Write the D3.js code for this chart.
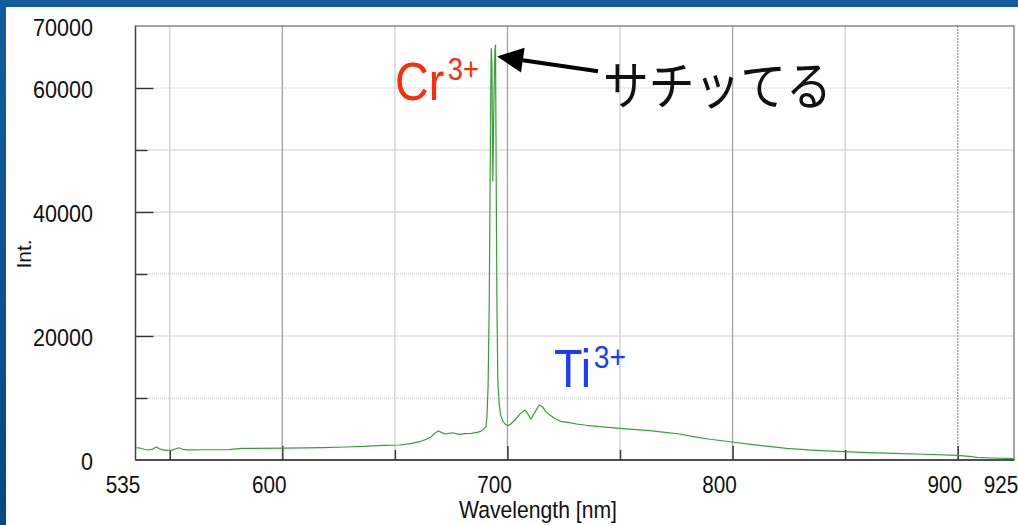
<!DOCTYPE html>
<html>
<head>
<meta charset="utf-8">
<script src="https://cdn.jsdelivr.net/npm/d3@7"></script>
<style>
  html, body { margin: 0; padding: 0; background: #0d5294; }
  svg { display: block; }
</style>
</head>
<body>
<svg id="chart" width="1018" height="525"></svg>
<script>
// Emission spectrum: wavelength (nm) and intensity (counts)
const wavelength = [
  535, 537, 540, 542, 544, 546, 548.5, 551, 554, 556, 558, 565, 576, 582, 600, 610, 618, 628, 636, 645,
  652, 657, 661, 664, 666.2, 668, 669.2, 670.5, 672.2, 674, 675.8, 677, 678.8, 681, 684, 686.5, 687.7, 689,
  690.4, 690.9, 691.4, 691.9, 692.3, 692.6, 692.8, 693.1, 693.5, 694.0, 694.4, 694.7, 695.0, 695.3, 695.7,
  696.3, 697.0, 698.1, 699.2, 700.3, 701.5, 703.3, 705.5, 707.7, 709, 710.4, 712, 714.1, 715.5, 717, 718.8,
  721, 724, 727, 730.7, 735, 741, 750, 757, 763.3, 770, 776.6, 782.5, 790, 799.8, 810, 824, 835, 849.6,
  860, 871.4, 885, 900, 905, 908.5, 915, 925
];
const intensity = [
  1980, 1900, 1610, 1700, 2100, 1700, 1560, 1600, 1980, 1700, 1620, 1650, 1660, 1880, 1900, 1950, 1990, 2100, 2200, 2350,
  2420, 2650, 2950, 3350, 3760, 4400, 4680, 4500, 4190, 4300, 4400, 4250, 4140, 4250, 4300, 4450, 4570, 4850,
  5370, 7000, 12000, 25000, 45000, 60000, 66400, 64000, 45000, 58000, 66000, 66900, 45000, 26000, 13000,
  9000, 7200, 6180, 5700, 5540, 5800, 6450, 7400, 8060, 7500, 6560, 7600, 8870, 8600, 7800, 7260,
  6700, 6180, 6080, 5810, 5600, 5370, 5110, 4900, 4730, 4450, 4190, 3760, 3350, 2900, 2450, 1880, 1600, 1340,
  1200, 1080, 930, 760, 600, 430, 320, 210
];

// Axis ticks, labels and grid positions
const xTickLabels = [535, 600, 700, 800, 900, 925];
const xGrid = [550, 600, 650, 700, 750, 800, 850, 900];
const yTickLabels = [0, 20000, 40000, 60000, 70000];
const yGrid = [10000, 20000, 30000, 40000, 50000, 60000];

const svg = d3.select("#chart");
const W = 1018, H = 525;
const plot = { left: 136, right: 1014, top: 26, bottom: 460 };
const SX = 0.88; // horizontal squeeze applied to all lettering

const x = d3.scaleLinear().domain([535, 925]).range([plot.left, plot.right]);
const y = d3.scaleLinear().domain([0, 70000]).range([plot.bottom, plot.top]);

// slide backdrop
const defs = svg.append("defs");
const bg = defs.append("linearGradient").attr("id", "bg").attr("x1", 0).attr("y1", 0).attr("x2", 0).attr("y2", 1);
bg.append("stop").attr("offset", "0%").attr("stop-color", "#145c9e");
bg.append("stop").attr("offset", "100%").attr("stop-color", "#074a82");
svg.append("rect").attr("width", W).attr("height", H).attr("fill", "url(#bg)");
svg.append("rect").attr("x", 6).attr("y", 7).attr("width", W - 6).attr("height", H - 7).attr("fill", "#ffffff");

defs.append("clipPath").attr("id", "plotclip")
  .append("rect").attr("x", plot.left).attr("y", plot.top - 2)
  .attr("width", plot.right - plot.left).attr("height", plot.bottom - plot.top + 2);

// grid
const dotted = d => d === 10000 || d === 30000 || d === 60000;
const grid = svg.append("g");
grid.selectAll("line.hg").data(yGrid).join("line")
  .attr("x1", plot.left).attr("x2", plot.right)
  .attr("y1", d => y(d)).attr("y2", d => y(d))
  .attr("stroke", d => dotted(d) ? "#c4c4c4" : "#dedede")
  .attr("stroke-width", d => dotted(d) ? 1 : 1.6)
  .attr("stroke-dasharray", d => dotted(d) ? "1,1" : null);
grid.selectAll("line.vg").data(xGrid).join("line")
  .attr("y1", plot.top).attr("y2", plot.bottom)
  .attr("x1", d => x(d)).attr("x2", d => x(d))
  .attr("stroke", d => (d % 100 === 0) ? "#a2a2a2" : "#cfcfcf")
  .attr("stroke-width", 1.3)
  .attr("stroke-dasharray", d => d === 900 ? "2,1" : null);

// inward ticks built with d3 axes
const gxMinor = svg.append("g").attr("transform", `translate(0,${plot.bottom})`)
  .call(d3.axisBottom(x).tickValues(xGrid.filter(d => d % 100 !== 0)).tickSize(-10).tickFormat(""));
const gxMajor = svg.append("g").attr("transform", `translate(0,${plot.bottom})`)
  .call(d3.axisBottom(x).tickValues(xGrid.filter(d => d % 100 === 0)).tickSize(-14).tickFormat(""));
const gyMinor = svg.append("g").attr("transform", `translate(${plot.left - 0.5},0)`)
  .call(d3.axisLeft(y).tickValues(yGrid.filter(d => !yTickLabels.includes(d))).tickSize(-12).tickFormat(""));
const gyMajor = svg.append("g").attr("transform", `translate(${plot.left - 0.5},0)`)
  .call(d3.axisLeft(y).tickValues(yGrid.filter(d => yTickLabels.includes(d))).tickSize(-18).tickFormat(""));
[gxMinor, gxMajor, gyMinor, gyMajor].forEach(g => {
  g.select(".domain").remove();
  g.selectAll(".tick line").attr("stroke", "#333").attr("stroke-width", 1.4);
});

// frame
svg.append("rect").attr("x", plot.left - 0.5).attr("y", plot.top).attr("width", plot.right - plot.left + 0.5)
  .attr("height", plot.bottom - plot.top).attr("fill", "none").attr("stroke", "#6a6a6a").attr("stroke-width", 1.2);
svg.append("line").attr("x1", plot.left - 0.5).attr("x2", plot.right).attr("y1", plot.bottom).attr("y2", plot.bottom)
  .attr("stroke", "#333").attr("stroke-width", 1.6);
svg.append("line").attr("x1", plot.left - 0.5).attr("x2", plot.left - 0.5).attr("y1", plot.top).attr("y2", plot.bottom)
  .attr("stroke", "#444").attr("stroke-width", 1.4);

// spectrum trace
const pts = wavelength.map((w, i) => [w, intensity[i]]);
svg.append("path").datum(pts)
  .attr("clip-path", "url(#plotclip)")
  .attr("fill", "none")
  .attr("stroke", "#37a037")
  .attr("stroke-width", 1.2)
  .attr("stroke-linejoin", "round")
  .attr("d", d3.line().x(d => x(d[0])).y(d => y(d[1])));

// lettering helper (slightly condensed)
function label(px, py, str, opt = {}) {
  const t = svg.append("text")
    .attr("transform", `translate(${px},${py}) ${opt.rotate ? `rotate(${opt.rotate})` : ""} scale(${opt.sx ?? SX},1)`)
    .attr("font-family", opt.family || "'Liberation Sans', Arial, sans-serif")
    .attr("font-size", opt.size || 24)
    .attr("fill", opt.fill || "#111")
    .attr("text-anchor", opt.anchor || "start");
  if (opt.sup) {
    t.append("tspan").text(str);
    t.append("tspan").attr("dx", opt.supDx || 0).attr("dy", opt.supDy).attr("font-size", opt.supSize).text(opt.sup);
  } else {
    t.text(str);
  }
  return t;
}

// tick labels
yTickLabels.forEach(v => label(93, y(v) + 9.5, String(v), { size: 24.5, anchor: "end" }));
xTickLabels.forEach(v => label(x(v) - 13, 492.5, String(v), { size: 23, anchor: "middle", sx: 0.9 }));

// axis titles
label(538, 518, "Wavelength [nm]", { size: 23.5, anchor: "middle", sx: 0.9 });
label(31, 254, "Int.", { size: 21, anchor: "middle", rotate: -90, sx: 1 });

// ion annotations
label(395, 100, "Cr", { size: 53, fill: "#ff2a06", sup: "3+", supSize: 31, supDy: -20, supDx: 4 });
label(554, 387, "Ti", { size: 53, fill: "#1a3cff", sup: "3+", supSize: 32, supDy: -19, supDx: 3 });

// saturation note with arrow pointing at the clipped peak
label(603, 104.5, "サチッてる", { size: 52, family: "'Noto Sans CJK JP', sans-serif" });
const tip = [x(695.4), y(65100)];
const tail = [x(740.2), y(62700)];
const ang = Math.atan2(tail[1] - tip[1], tail[0] - tip[0]);
const headLen = 26, headHalf = 12.5;
const base = [tip[0] + headLen * Math.cos(ang), tip[1] + headLen * Math.sin(ang)];
svg.append("line")
  .attr("x1", base[0]).attr("y1", base[1]).attr("x2", tail[0]).attr("y2", tail[1])
  .attr("stroke", "#000").attr("stroke-width", 4);
svg.append("path")
  .attr("d", d3.line()([
    tip,
    [base[0] - headHalf * Math.sin(ang), base[1] + headHalf * Math.cos(ang)],
    [base[0] + headHalf * Math.sin(ang), base[1] - headHalf * Math.cos(ang)]
  ]) + "Z")
  .attr("fill", "#000");
</script>
</body>
</html>
